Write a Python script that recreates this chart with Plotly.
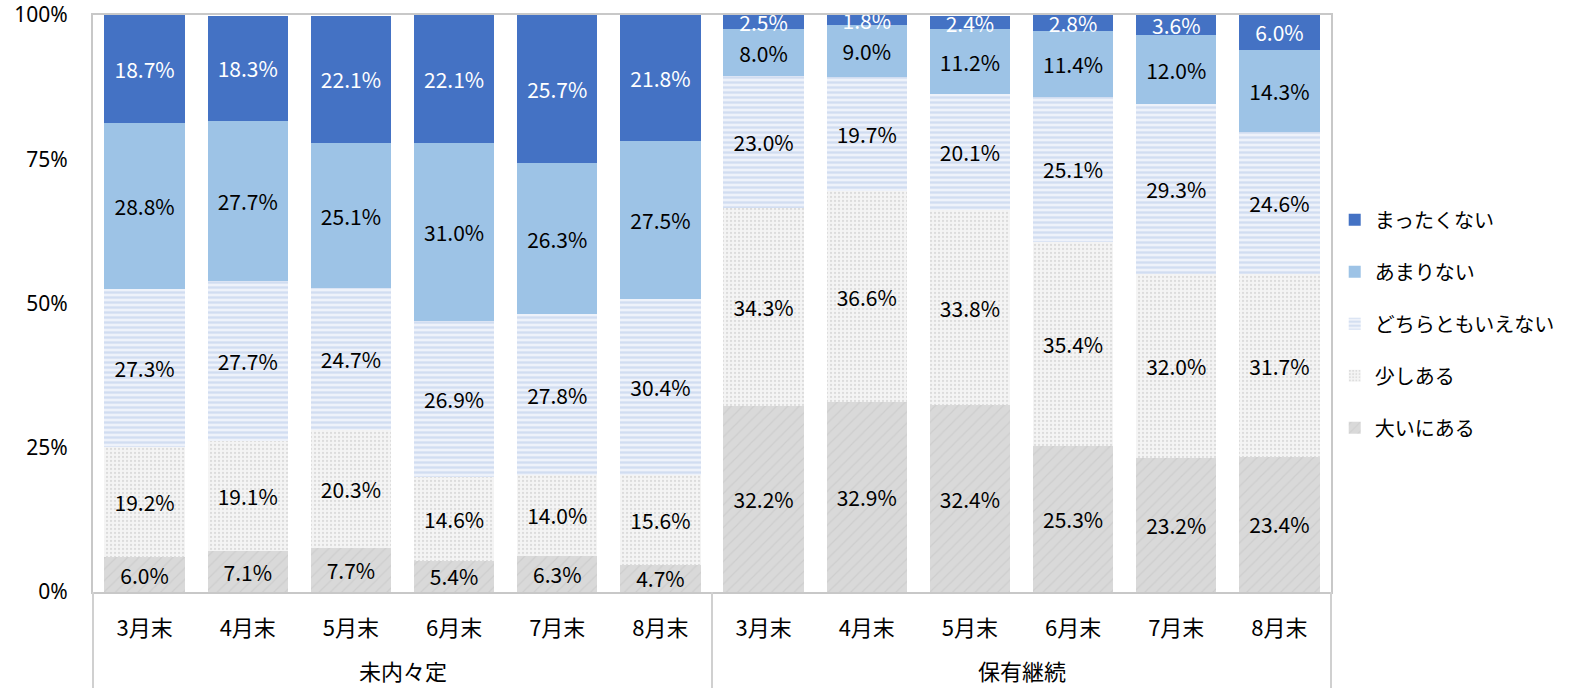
import plotly.graph_objects as go

groups = ["未内々定"] * 6 + ["保有継続"] * 6
months = ["3月末", "4月末", "5月末", "6月末", "7月末", "8月末"] * 2
group_names = ["未内々定", "保有継続"]

series_names = ["大いにある", "少しある", "どちらともいえない", "あまりない", "まったくない"]
oini = [6.0, 7.1, 7.7, 5.4, 6.3, 4.7, 32.2, 32.9, 32.4, 25.3, 23.2, 23.4]
sukoshi = [19.2, 19.1, 20.3, 14.6, 14.0, 15.6, 34.3, 36.6, 33.8, 35.4, 32.0, 31.7]
dochira = [27.3, 27.7, 24.7, 26.9, 27.8, 30.4, 23.0, 19.7, 20.1, 25.1, 29.3, 24.6]
amari = [28.8, 27.7, 25.1, 31.0, 26.3, 27.5, 8.0, 9.0, 11.2, 11.4, 12.0, 14.3]
mattaku = [18.7, 18.3, 22.1, 22.1, 25.7, 21.8, 2.5, 1.8, 2.4, 2.8, 3.6, 6.0]
values = [oini, sukoshi, dochira, amari, mattaku]
y_ticks = [0, 25, 50, 75, 100]

# unique category keys (group + month), displayed with month labels only
keys = [f"{g}|{m}" for g, m in zip(groups, months)]

styles = [
    dict(color="#d9d9d9", pattern=dict(shape="/", fgcolor="#c2c2c2", bgcolor="#d9d9d9", size=8, solidity=0.15), text="#000000"),
    dict(color="#f2f2f2", pattern=dict(shape=".", fgcolor="#c4c4c4", bgcolor="#f4f4f4", size=4, solidity=0.25), text="#000000"),
    dict(color="#dae3f3", pattern=dict(shape="-", fgcolor="#b4c7e7", bgcolor="#eef2fa", size=5, solidity=0.45), text="#000000"),
    dict(color="#9dc3e6", pattern=None, text="#000000"),
    dict(color="#4472c4", pattern=None, text="#ffffff"),
]

font = "Noto Sans CJK JP"
fig = go.Figure()
n = len(series_names)
for i, (name, vals, st) in enumerate(zip(series_names, values, styles)):
    marker = dict(color=st["color"], line=dict(width=0))
    if st["pattern"]:
        marker["pattern"] = st["pattern"]
    fig.add_trace(go.Bar(
        x=keys, y=vals, name=name, marker=marker, legendgroup=f"g{i}",
        legendrank=n - i,
        text=[f"{v:.1f}%" for v in vals], textposition="inside",
        insidetextanchor="middle", textangle=0,
        textfont=dict(color=st["text"], size=21, family=font),
    ))

W, H = 1572, 690
T, B = 15, 98
plot_h = H - T - B

fig.update_layout(
    barmode="stack", bargap=0.22,
    width=W, height=H,
    margin=dict(l=93, r=241, t=T, b=B),
    plot_bgcolor="white", paper_bgcolor="white",
    font=dict(family=font, size=20, color="#000000"),
    uniformtext=dict(minsize=21, mode="show"),
    legend=dict(traceorder="grouped", x=1.003, xanchor="left", y=0.465, yanchor="middle",
                font=dict(size=20), itemsizing="constant", tracegroupgap=23),
    showlegend=True,
)
fig.update_yaxes(range=[0, 100], tickvals=y_ticks, ticktext=[f"{v}%" for v in y_ticks],
                 showgrid=False, showline=True, linecolor="#c8c8c8", linewidth=2, mirror=True,
                 ticks="", tickfont=dict(size=21, family="Noto Sans"), zeroline=False, automargin=False,
                 ticklabelstandoff=19, ticklabeloverflow="allow")
fig.update_xaxes(type="category", tickvals=keys, ticktext=months,
                 showline=True, linecolor="#c8c8c8", linewidth=2, mirror=True,
                 tickfont=dict(size=22), ticks="", automargin=False, ticklabelstandoff=16,
                 ticklabeloverflow="allow")

# group dividers and group labels
n_groups = len(group_names)
for k in range(n_groups + 1):
    fig.add_shape(type="line", xref="paper", yref="paper", x0=k / n_groups, x1=k / n_groups,
                  y0=0, y1=-96 / plot_h, line=dict(color="#d0d0d0", width=2))
for k, g in enumerate(group_names):
    fig.add_annotation(text=g, xref="paper", yref="paper", x=(k + 0.5) / n_groups,
                       y=-78 / plot_h, yanchor="middle", xanchor="center", showarrow=False,
                       font=dict(size=22, family=font, color="#000000"))

fig.write_html("out.html", config={"displayModeBar": False},
               post_script="document.body.style.margin='0';document.body.style.overflow='hidden';")
